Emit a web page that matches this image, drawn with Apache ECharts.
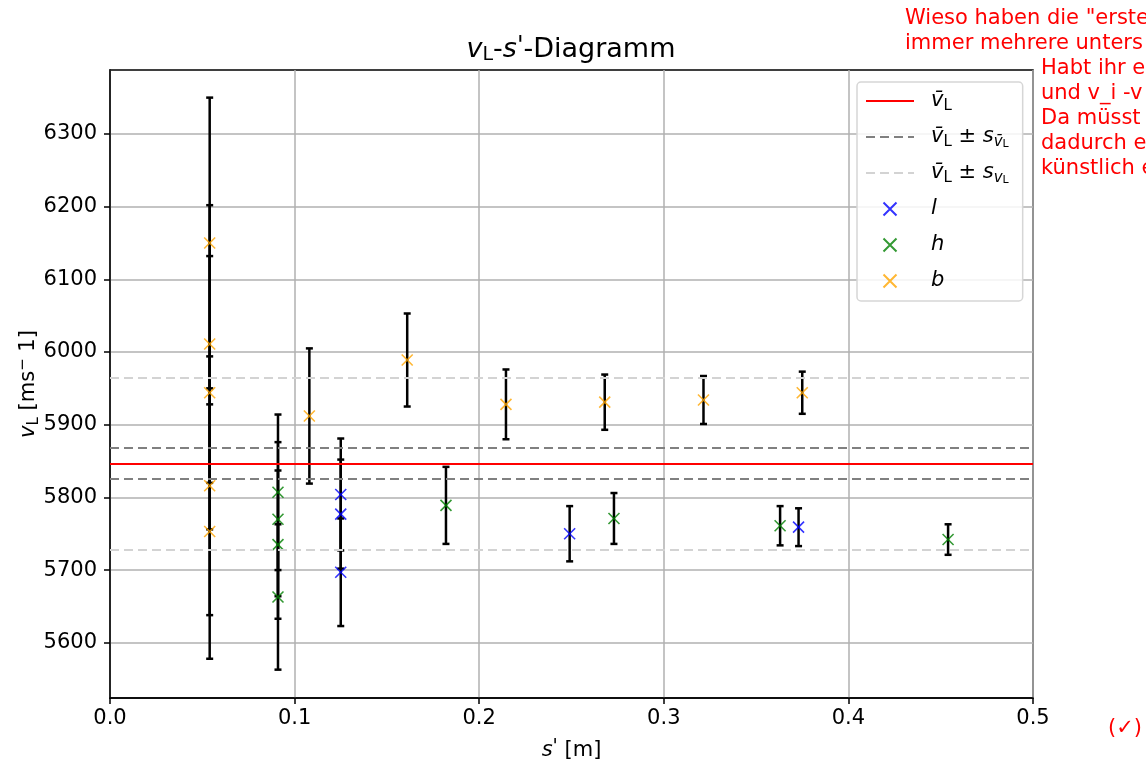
<!DOCTYPE html>
<html><head><meta charset="utf-8">
<script src="https://cdn.jsdelivr.net/npm/echarts@6/dist/echarts.min.js"></script>
<style>html,body{margin:0;padding:0;background:#fff}#c{width:1146px;height:762px}</style>
</head><body><div id="c"></div>
<script>
const FONT = '"DejaVu Sans", sans-serif';
// data
const lX = [0.125, 0.125, 0.125, 0.249, 0.373];
const lY = [5804, 5777, 5697, 5750, 5759];
const lErr = [77, 75, 74, 38, 26];
const hX = [0.091, 0.091, 0.091, 0.091, 0.182, 0.273, 0.363, 0.454];
const hY = [5807, 5770, 5735, 5663, 5789, 5771, 5761, 5742];
const hErr = [107, 106, 102, 100, 53, 35, 27, 21];
const bX = [0.054, 0.054, 0.054, 0.054, 0.054, 0.108, 0.161, 0.2145, 0.268, 0.3215, 0.375];
const bY = [6150, 6011, 5944, 5816, 5753, 5912, 5989, 5928, 5931, 5934, 5944];
const bErr = [200, 191, 188, 178, 175, 93, 64, 48, 38, 33, 29];
const vMean = 5846.5;
const sMean = 21.5;
const sSingle = 118;
const xTicks = [0, 0.1, 0.2, 0.3, 0.4, 0.5];
const yTicks = [5600, 5700, 5800, 5900, 6000, 6100, 6200, 6300];
const yRange = [5524, 6388];
const noteLines = ['Wieso haben die "erste', 'immer mehrere unters', 'Habt ihr e', 'und v_i -v', 'Da müsst', 'dadurch e', 'künstlich e'];
const checkNote = '(\u2713)';

const zip = (xs, ys, es) => xs.map((x, i) => es ? [x, ys[i], es[i]] : [x, ys[i]]);
const XSYM = 'path://M0,0L10,10M0,10L10,0';

function renderErr(params, api) {
  const x = api.value(0), y = api.value(1), e = api.value(2);
  const t = api.coord([x, y + e]), b = api.coord([x, y - e]);
  const hw = 3.5;
  const st = { stroke: '#000', lineWidth: 2.5 };
  return { type: 'group', children: [
    { type: 'line', shape: { x1: t[0], y1: t[1], x2: b[0], y2: b[1] }, style: st },
    { type: 'line', shape: { x1: t[0] - hw, y1: t[1], x2: t[0] + hw, y2: t[1] }, style: st },
    { type: 'line', shape: { x1: b[0] - hw, y1: b[1], x2: b[0] + hw, y2: b[1] }, style: st }
  ] };
}
function errSeries(xs, ys, es) {
  return { type: 'custom', renderItem: renderErr, data: zip(xs, ys, es), encode: { x: 0, y: 1 }, z: 3, silent: true };
}
function scatterSeries(name, color, xs, ys) {
  return { name, type: 'scatter', data: zip(xs, ys), symbol: XSYM, symbolSize: 11, symbolKeepAspect: true,
    itemStyle: { color: color, borderColor: color, borderWidth: 1.6 }, z: 4, silent: true };
}
function hLineSeries(name, color, type, width, vals) {
  return { name, type: 'line', data: [], symbol: 'none', lineStyle: { color, type, width }, itemStyle: { color }, z: 1,
    markLine: { silent: true, symbol: 'none', label: { show: false }, lineStyle: { color, type, width }, data: vals.map(v => ({ yAxis: v })) } };
}

const rich = {
  i: { fontStyle: 'italic', fontSize: 21, fontFamily: FONT, lineHeight: 26 },
  sub: { fontSize: 15, fontFamily: FONT, verticalAlign: 'bottom', lineHeight: 14 },
  subi: { fontSize: 15, fontStyle: 'italic', fontFamily: FONT, verticalAlign: 'bottom', lineHeight: 14 },
  subsub: { fontSize: 11, fontFamily: FONT, verticalAlign: 'bottom', lineHeight: 6 },
  t: { fontSize: 21, fontFamily: FONT, lineHeight: 26 }
};
const legendText = {
  'vmean': '{i|v\u0304}{sub|L}',
  'vmean_sm': '{i|v\u0304}{sub|L}{t| \u00b1 }{i|s}{subi|v\u0304}{subsub|L}',
  'vmean_s': '{i|v\u0304}{sub|L}{t| \u00b1 }{i|s}{subi|v}{subsub|L}',
  'l': '{i|l}', 'h': '{i|h}', 'b': '{i|b}'
};
const hideSym = { color: 'transparent', borderWidth: 0, opacity: 0 };

const chart = echarts.init(document.getElementById('c'));
chart.setOption({
  animation: false,
  backgroundColor: '#fff',
  title: {
    text: '{i|v}{sub|L}{t|-}{i|s}{sup|\'}{t|-Diagramm}',
    left: 566, top: 30, textAlign: 'center',
    textStyle: { fontSize: 27, fontWeight: 'normal', fontFamily: FONT, color: '#000',
      rich: {
        i: { fontStyle: 'italic', fontSize: 27, fontFamily: FONT, lineHeight: 30 },
        t: { fontSize: 27, fontFamily: FONT, lineHeight: 30 },
        sub: { fontSize: 19, fontFamily: FONT, verticalAlign: 'bottom', lineHeight: 16 },
        sup: { fontSize: 24, fontStyle: 'italic', fontFamily: FONT, verticalAlign: 'top', lineHeight: 26 }
      } }
  },
  grid: { left: 110, right: 113, top: 70, bottom: 64, show: true, borderColor: '#000', borderWidth: 1.5,
    backgroundColor: 'transparent', containLabel: false, outerBoundsMode: 'none' },
  xAxis: {
    type: 'value', min: xTicks[0], max: xTicks[xTicks.length - 1], interval: 0.1,
    name: '{i|s}{sup|\'}{t| [m]}', nameLocation: 'middle', nameGap: 40,
    nameTextStyle: { fontSize: 21, fontFamily: FONT, color: '#000', rich: {
      i: { fontStyle: 'italic', fontSize: 21, fontFamily: FONT, lineHeight: 26 },
      t: { fontSize: 21, fontFamily: FONT, lineHeight: 26 },
      sup: { fontSize: 19, fontStyle: 'italic', fontFamily: FONT, verticalAlign: 'top', lineHeight: 22 } } },
    axisLine: { lineStyle: { color: '#000', width: 1.5 } },
    axisTick: { show: true, length: 6, lineStyle: { color: '#000', width: 1.5 } },
    axisLabel: { fontSize: 21, fontFamily: FONT, color: '#000', margin: 10, formatter: v => v.toFixed(1) },
    splitLine: { show: true, lineStyle: { color: '#b0b0b0', width: 1.5 } }
  },
  yAxis: {
    type: 'value', min: yRange[0], max: yRange[1],
    name: '{i|v}{sub|L}{t| [ms}{sup|\u2212}{t| 1]}', nameLocation: 'middle', nameGap: 68, nameRotate: 90,
    nameMoveOverlap: false,
    nameTextStyle: { fontSize: 21, fontFamily: FONT, color: '#000', rich: {
      i: { fontStyle: 'italic', fontSize: 21, fontFamily: FONT, lineHeight: 26 },
      t: { fontSize: 21, fontFamily: FONT, lineHeight: 26 },
      sub: { fontSize: 15, fontFamily: FONT, verticalAlign: 'bottom', lineHeight: 14 },
      sup: { fontSize: 15, fontFamily: FONT, verticalAlign: 'top', lineHeight: 14 } } },
    axisLine: { show: true, lineStyle: { color: '#000', width: 1.5 } },
    axisTick: { show: true, length: 6, lineStyle: { color: '#000', width: 1.5 }, customValues: yTicks },
    axisLabel: { fontSize: 21, fontFamily: FONT, color: '#000', margin: 13, customValues: yTicks, formatter: v => String(v) },
    splitLine: { show: true, lineStyle: { color: '#b0b0b0', width: 1.5 } }
  },
  legend: {
    orient: 'vertical', left: 857, top: 82, padding: [6, 14, 7, 8], itemGap: 10,
    itemWidth: 48, itemHeight: 13,
    backgroundColor: 'rgba(255,255,255,0.85)', borderColor: '#d6d6d6', borderWidth: 1.5, borderRadius: 4,
    data: [
      { name: 'vmean', itemStyle: hideSym },
      { name: 'vmean_sm', itemStyle: hideSym },
      { name: 'vmean_s', itemStyle: hideSym },
      'l', 'h', 'b'],
    formatter: n => legendText[n],
    textStyle: { fontSize: 21, fontFamily: FONT, color: '#000', padding: [0, 0, 0, 12], lineHeight: 26, rich: rich }
  },
  graphic: [
    ...noteLines.map((txt, i) => ({ type: 'text', x: i < 2 ? 905 : 1041, y: 19 + i * 24.9,
      style: { text: txt, fill: '#ff0000', fontSize: 21, fontFamily: FONT, verticalAlign: 'middle' } })),
    { type: 'text', x: 1108, y: 729, style: { text: checkNote, fill: '#ff0000', fontSize: 21, fontFamily: FONT, verticalAlign: 'middle' } }
  ],
  series: [
    hLineSeries('vmean_s', '#d3d3d3', [9, 5], 2, [vMean + sSingle, vMean - sSingle]),
    hLineSeries('vmean_sm', '#808080', [9, 5], 2, [vMean + sMean, vMean - sMean]),
    hLineSeries('vmean', '#ff0000', 'solid', 2.2, [vMean]),
    errSeries(bX, bY, bErr),
    errSeries(hX, hY, hErr),
    errSeries(lX, lY, lErr),
    scatterSeries('l', '#0000ff', lX, lY),
    scatterSeries('h', '#008000', hX, hY),
    scatterSeries('b', '#ffa500', bX, bY)
  ]
});
</script></body></html>
